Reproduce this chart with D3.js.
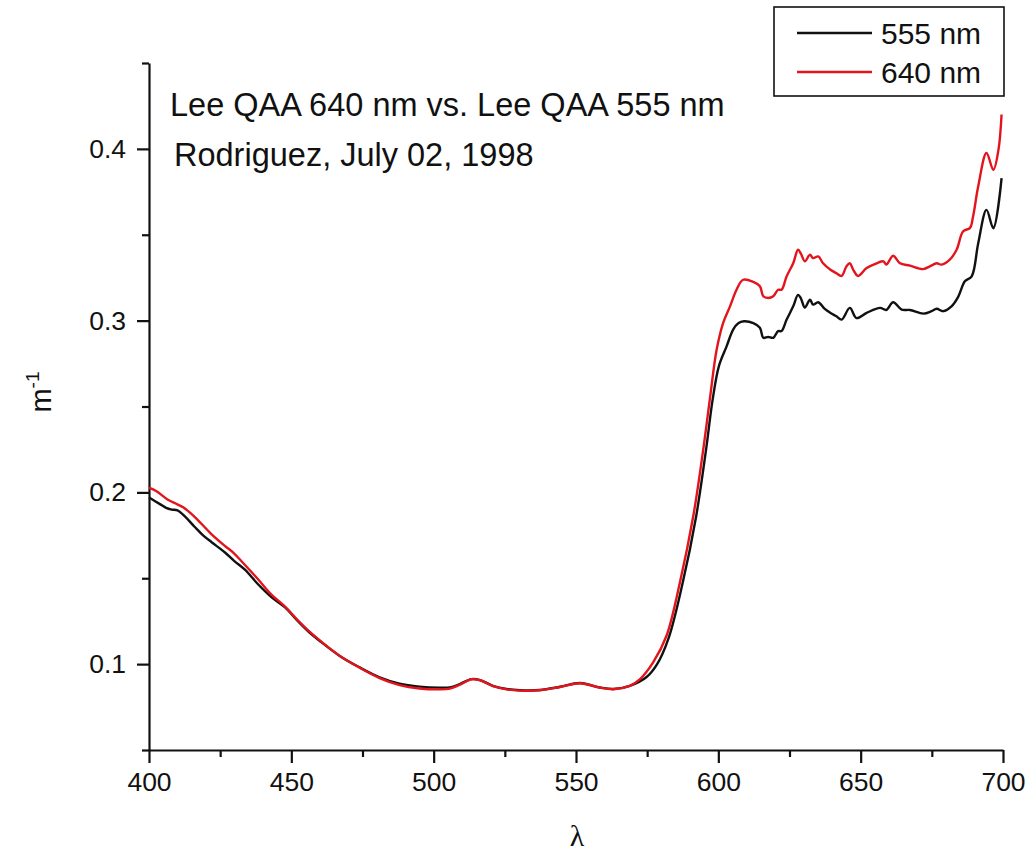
<!DOCTYPE html>
<html>
<head>
<meta charset="utf-8">
<script src="https://cdn.jsdelivr.net/npm/d3@7"></script>
<style>
  html, body { margin: 0; padding: 0; background: #fff; }
  svg { display: block; }
  text { font-family: "Liberation Sans", Arial, sans-serif; fill: #111; }
</style>
</head>
<body>
<svg id="chart" width="1031" height="854"></svg>
<script>
// Absorption spectra (m^-1) from the QAA algorithm with two reference bands
const wavelength555 = [400, 402, 404, 406, 408, 410, 412.6, 416, 419, 422, 426.7, 430, 433.7, 438.3, 443, 447.8, 452.3, 456, 460, 467, 474, 481, 488, 495, 502, 505.7, 509.2, 513.3, 516.3, 520.8, 525.6, 530.3, 537.3, 544.4, 551.4, 558.4, 563.1, 568.9, 574.8, 578.5, 582.5, 587.5, 592.2, 595.7, 598, 600.2, 602.9, 605.2, 607, 609, 612.3, 614.6, 615.8, 617.5, 619.3, 621, 622.2, 624, 626.3, 628, 629, 630.4, 632.2, 633.3, 635.1, 637.4, 639.4, 641.5, 643.3, 646.2, 648.5, 652.1, 656.8, 659, 661.4, 664.4, 667.3, 672, 674.9, 676.7, 679, 681.9, 684.3, 686.6, 689, 691.3, 694.2, 696.6, 699.5];
const a555 = [0.197, 0.195, 0.193, 0.191, 0.190, 0.1895, 0.186, 0.180, 0.175, 0.171, 0.165, 0.160, 0.155, 0.1465, 0.139, 0.133, 0.125, 0.119, 0.1135, 0.1048, 0.0981, 0.0923, 0.0886, 0.0869, 0.0863, 0.0865, 0.0884, 0.0913, 0.0907, 0.0874, 0.0855, 0.0848, 0.0849, 0.0868, 0.0890, 0.0864, 0.0855, 0.0874, 0.0925, 0.1000, 0.115, 0.1475, 0.186, 0.225, 0.254, 0.2735, 0.285, 0.2948, 0.2985, 0.2996, 0.2985, 0.2958, 0.290, 0.2905, 0.290, 0.2939, 0.2939, 0.3006, 0.3083, 0.315, 0.313, 0.3076, 0.3122, 0.3093, 0.3107, 0.3068, 0.3045, 0.3025, 0.3006, 0.3074, 0.3015, 0.3045, 0.3074, 0.3062, 0.3107, 0.3064, 0.3062, 0.3041, 0.3055, 0.3069, 0.3055, 0.3083, 0.314, 0.3229, 0.3258, 0.3451, 0.3645, 0.3538, 0.383];

const wavelength640 = [400, 402.5, 406.5, 410, 412, 416.2, 422, 426.7, 429.5, 432.5, 438.3, 443, 447.8, 452.3, 456, 460, 467, 474, 481, 488, 495, 502, 505.7, 509.2, 513.3, 516.3, 520.8, 525.6, 530.3, 537.3, 544.4, 551.4, 558.4, 563.1, 568.9, 572.5, 577.1, 581.8, 586.5, 591.2, 594.7, 597, 599.4, 601.7, 604.1, 606.4, 608.7, 612.3, 614.6, 615.8, 617.5, 619.3, 621, 622.2, 624, 626.3, 628, 629, 630.4, 632.2, 633.3, 635.1, 636.8, 639.4, 641.5, 643.3, 645, 646.2, 647.4, 649.1, 652.1, 655.6, 658, 659, 661.4, 663.8, 667.3, 672, 674.3, 676.7, 678.4, 681.3, 683.7, 686, 688.4, 689.5, 691.3, 694.2, 696.6, 698.4, 699.5];
const a640 = [0.2027, 0.2008, 0.1959, 0.193, 0.1913, 0.1855, 0.1756, 0.1688, 0.1651, 0.1599, 0.1494, 0.1405, 0.1335, 0.1255, 0.1195, 0.1138, 0.1048, 0.0979, 0.0919, 0.0878, 0.0858, 0.0853, 0.0857, 0.0880, 0.0912, 0.0906, 0.0872, 0.0853, 0.0846, 0.0848, 0.0867, 0.0889, 0.0863, 0.0854, 0.0874, 0.0913, 0.101, 0.1165, 0.1475, 0.1862, 0.225, 0.254, 0.283, 0.2987, 0.3083, 0.318, 0.3238, 0.3225, 0.320, 0.3142, 0.3132, 0.3142, 0.318, 0.318, 0.3258, 0.3334, 0.3413, 0.339, 0.3345, 0.3384, 0.3364, 0.3374, 0.3334, 0.3296, 0.3276, 0.326, 0.3316, 0.3334, 0.3296, 0.326, 0.3306, 0.3334, 0.3345, 0.3326, 0.3378, 0.3334, 0.332, 0.330, 0.3316, 0.3334, 0.3326, 0.3355, 0.3413, 0.352, 0.354, 0.3608, 0.3782, 0.3976, 0.3878, 0.3994, 0.420];

const xMajorTicks = [400, 450, 500, 550, 600, 650, 700];
const xMinorTicks = [425, 475, 525, 575, 625, 675];
const yMajorTicks = [0.1, 0.2, 0.3, 0.4];
const yMinorTicks = [0.05, 0.15, 0.25, 0.35, 0.45];

const seriesNames = ["555 nm", "640 nm"];
const seriesColors = ["#111111", "#e3141c"];
const titleLines = ["Lee QAA 640 nm vs. Lee QAA 555 nm", "Rodriguez, July 02, 1998"];

const svg = d3.select("#chart");
const plot = { left: 149, right: 1003, top: 63, bottom: 750 };

const x = d3.scaleLinear().domain([400, 700]).range([plot.left, plot.right]);
const y = d3.scaleLinear().domain([0.05, 0.45]).range([plot.bottom, plot.top]);

// axes: major ticks with labels, minor ticks without
function styleAxis(g) {
  g.select(".domain").attr("stroke", "#111").attr("stroke-width", 2.2);
  g.selectAll(".tick line").attr("stroke", "#111").attr("stroke-width", 2.2);
  g.selectAll(".tick text").style("font-size", "26.5px").attr("fill", "#111")
    .style("font-family", "'Liberation Sans', Arial, sans-serif");
}

const xAxisG = svg.append("g").attr("transform", `translate(0,${plot.bottom})`)
  .call(d3.axisBottom(x).tickValues(xMajorTicks).tickSize(13).tickSizeOuter(0).tickPadding(9).tickFormat(d3.format("d")));
styleAxis(xAxisG);
const xMinorG = svg.append("g").attr("transform", `translate(0,${plot.bottom})`)
  .call(d3.axisBottom(x).tickValues(xMinorTicks).tickSize(7).tickSizeOuter(0).tickFormat(""));
styleAxis(xMinorG);
xMinorG.select(".domain").remove();

const yAxisG = svg.append("g").attr("transform", `translate(${plot.left},0)`)
  .call(d3.axisLeft(y).tickValues(yMajorTicks).tickSize(12).tickSizeOuter(0).tickPadding(11).tickFormat(d3.format(".1f")));
styleAxis(yAxisG);
const yMinorG = svg.append("g").attr("transform", `translate(${plot.left},0)`)
  .call(d3.axisLeft(y).tickValues(yMinorTicks).tickSize(7).tickSizeOuter(0).tickFormat(""));
styleAxis(yMinorG);
yMinorG.select(".domain").remove();

// spectra
const line = d3.line().x(d => x(d[0])).y(d => y(d[1])).curve(d3.curveCatmullRom.alpha(0.5));
const series = [
  d3.zip(wavelength555, a555),
  d3.zip(wavelength640, a640)
];
svg.append("g").selectAll("path").data(series).join("path")
  .attr("d", line)
  .attr("fill", "none")
  .attr("stroke", (d, i) => seriesColors[i])
  .attr("stroke-width", 2.4)
  .attr("stroke-linejoin", "round");

// annotation lines
svg.append("g").selectAll("text").data(titleLines).join("text")
  .attr("x", (d, i) => i === 0 ? 170 : 174)
  .attr("y", (d, i) => 116 + i * 50)
  .style("font-size", "32.5px")
  .text(d => d);

// axis titles
svg.append("text")
  .attr("x", 577).attr("y", 846)
  .attr("text-anchor", "middle")
  .style("font-family", "'Liberation Serif', 'Times New Roman', serif")
  .style("font-size", "30px")
  .text("λ");

const yTitle = svg.append("text")
  .attr("transform", "translate(51,392) rotate(-90)")
  .attr("text-anchor", "middle")
  .style("font-size", "29px");
yTitle.append("tspan").text("m");
yTitle.append("tspan").attr("dy", -12).style("font-size", "19px").text("-1");

// legend
const legend = svg.append("g");
legend.append("rect")
  .attr("x", 774).attr("y", 7).attr("width", 230).attr("height", 89)
  .attr("fill", "#fff").attr("stroke", "#111").attr("stroke-width", 1.6);
const legendRows = legend.selectAll("g.row").data(seriesNames).join("g")
  .attr("class", "row")
  .attr("transform", (d, i) => `translate(0,${33 + i * 39})`);
legendRows.append("line")
  .attr("x1", 797).attr("x2", 872)
  .attr("stroke", (d, i) => seriesColors[i]).attr("stroke-width", 2.4);
legendRows.append("text")
  .attr("x", 881).attr("y", 11)
  .style("font-size", "30px")
  .text(d => d);
</script>
</body>
</html>
